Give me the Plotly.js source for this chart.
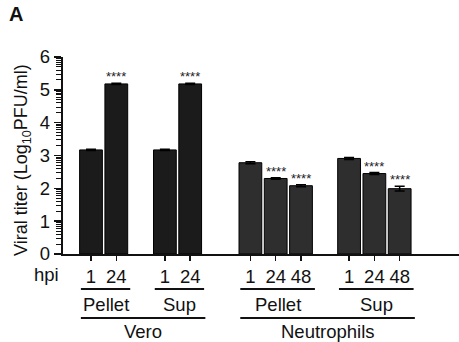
<!DOCTYPE html>
<html><head><meta charset="utf-8">
<script src="https://cdn.plot.ly/plotly-3.0.1.min.js"></script>
<style>html,body{margin:0;padding:0;background:#fff}#chart{width:459px;height:342px}</style>
</head><body><div id="chart"></div>
<script>
// ---- data ----
const cellTypes = ["Vero", "Vero", "Vero", "Vero", "Neutrophils", "Neutrophils", "Neutrophils", "Neutrophils", "Neutrophils", "Neutrophils"];
const fractions = ["Pellet", "Pellet", "Sup", "Sup", "Pellet", "Pellet", "Pellet", "Sup", "Sup", "Sup"];
const hpiLabels = ["1", "24", "1", "24", "1", "24", "48", "1", "24", "48"];
const titers = [3.17, 5.18, 3.17, 5.18, 2.78, 2.30, 2.08, 2.91, 2.45, 1.99];
const errors = [0.02, 0.02, 0.02, 0.02, 0.03, 0.02, 0.03, 0.03, 0.03, 0.07];
const significance = ["", "****", "", "****", "", "****", "****", "", "****", "****"];
const yTicks = [0, 1, 2, 3, 4, 5, 6];

// ---- layout helpers (positions) ----
const groupStarts = {"Vero|Pellet": 0, "Vero|Sup": 2.92, "Neutrophils|Pellet": 6.3, "Neutrophils|Sup": 10.2};
const groupCount = {};
const xPos = cellTypes.map((c, i) => {
  const key = c + "|" + fractions[i];
  groupCount[key] = (groupCount[key] || 0);
  const p = groupStarts[key] + groupCount[key];
  groupCount[key] += 1;
  return p;
});
const colorFor = c => c === "Vero" ? "#1b1b1b" : "#2e2e2e";

const FONT = "Arial, 'Liberation Sans', sans-serif";
const FS = 18.5;
const traces = [];
["Vero", "Neutrophils"].forEach(ct => {
  const idx = cellTypes.map((c, i) => c === ct ? i : -1).filter(i => i >= 0);
  traces.push({
    type: "bar",
    x: idx.map(i => xPos[i]),
    y: idx.map(i => titers[i]),
    width: 0.9,
    marker: {color: colorFor(ct), line: {color: "#000", width: 1}},
    error_y: {type: "data", array: idx.map(i => errors[i]), visible: true, color: "#000", thickness: 1.5, width: 5},
    showlegend: false, hoverinfo: "skip"
  });
});

const minorVals = [];
for (let d = 0; d < 6; d++) for (let k = 2; k <= 9; k++) minorVals.push(d + Math.log10(k));

const annotations = [];
significance.forEach((s, i) => {
  if (!s) return;
  annotations.push({x: xPos[i], y: titers[i] + errors[i], xref: "x", yref: "y", text: s, showarrow: false,
    xanchor: "center", yanchor: "bottom", yshift: -3, font: {family: FONT, size: 13, color: "#222"}});
});
const yPx = px => (254 - px) / 197; // paper y from pixel row
const xPxPaper = px => (px - 63) / 396;
annotations.push({x: xPxPaper(22), y: yPx(160), xref: "paper", yref: "paper", text: "Viral titer (Log<sub>10</sub>PFU/ml)",
  textangle: -90, showarrow: false, xanchor: "center", yanchor: "middle", font: {family: FONT, size: 18, color: "#111"}});
annotations.push({x: xPxPaper(46), y: yPx(274), xref: "paper", yref: "paper", text: "hpi", showarrow: false,
  xanchor: "center", yanchor: "middle", font: {family: FONT, size: FS, color: "#111"}});
annotations.push({x: xPxPaper(7), y: yPx(14), xref: "paper", yref: "paper", text: "<b>A</b>", showarrow: false,
  xanchor: "left", yanchor: "middle", font: {family: FONT, size: 20, color: "#111"}});

// group underline shapes and labels
const shapes = [];
function groupSpan(filterFn) {
  const ps = xPos.filter((p, i) => filterFn(i));
  return [Math.min(...ps), Math.max(...ps)];
}
Object.keys(groupStarts).forEach(key => {
  const [c, f] = key.split("|");
  const [a, b] = groupSpan(i => cellTypes[i] === c && fractions[i] === f);
  const x0 = a - 0.4, x1 = b + 0.55;
  shapes.push({type: "line", xref: "x", yref: "paper", x0: x0, x1: x1, y0: yPx(289), y1: yPx(289), line: {color: "#111", width: 1.8}});
  annotations.push({x: (x0 + x1) / 2, y: yPx(304), xref: "x", yref: "paper", text: f, showarrow: false,
    xanchor: "center", yanchor: "middle", font: {family: FONT, size: FS, color: "#111"}});
});
["Vero", "Neutrophils"].forEach(c => {
  const [a, b] = groupSpan(i => cellTypes[i] === c);
  const x0 = a - 0.4, x1 = b + 0.6;
  shapes.push({type: "line", xref: "x", yref: "paper", x0: x0, x1: x1, y0: yPx(318), y1: yPx(318), line: {color: "#111", width: 1.8}});
  annotations.push({x: (x0 + x1) / 2, y: yPx(331), xref: "x", yref: "paper", text: c, showarrow: false,
    xanchor: "center", yanchor: "middle", font: {family: FONT, size: FS, color: "#111"}});
});

const layout = {
  width: 459, height: 342,
  margin: {l: 63, r: 0, t: 57, b: 88},
  paper_bgcolor: "#fff", plot_bgcolor: "#fff",
  bargap: 0,
  xaxis: {
    range: [-1.107, 14.545], showgrid: false, zeroline: false,
    showline: true, linecolor: "#111", linewidth: 1.8,
    tickmode: "array", tickvals: xPos, ticktext: hpiLabels,
    ticks: "outside", ticklen: 5, tickwidth: 1.5, tickcolor: "#111",
    tickfont: {family: FONT, size: FS, color: "#111"}, fixedrange: true
  },
  yaxis: {
    range: [0, 6], showgrid: false, zeroline: false,
    showline: true, linecolor: "#111", linewidth: 2.2,
    tickmode: "array", tickvals: yTicks, ticktext: yTicks.map(String),
    ticks: "outside", ticklen: 7, tickwidth: 1.5, tickcolor: "#111",
    tickfont: {family: FONT, size: FS, color: "#111"},
    minor: {tickmode: "array", tickvals: minorVals, ticks: "outside", ticklen: 5, tickwidth: 1, tickcolor: "#111"},
    fixedrange: true
  },
  annotations: annotations,
  shapes: shapes,
  font: {family: FONT}
};
Plotly.newPlot("chart", traces, layout, {displayModeBar: false, staticPlot: true});
</script></body></html>
